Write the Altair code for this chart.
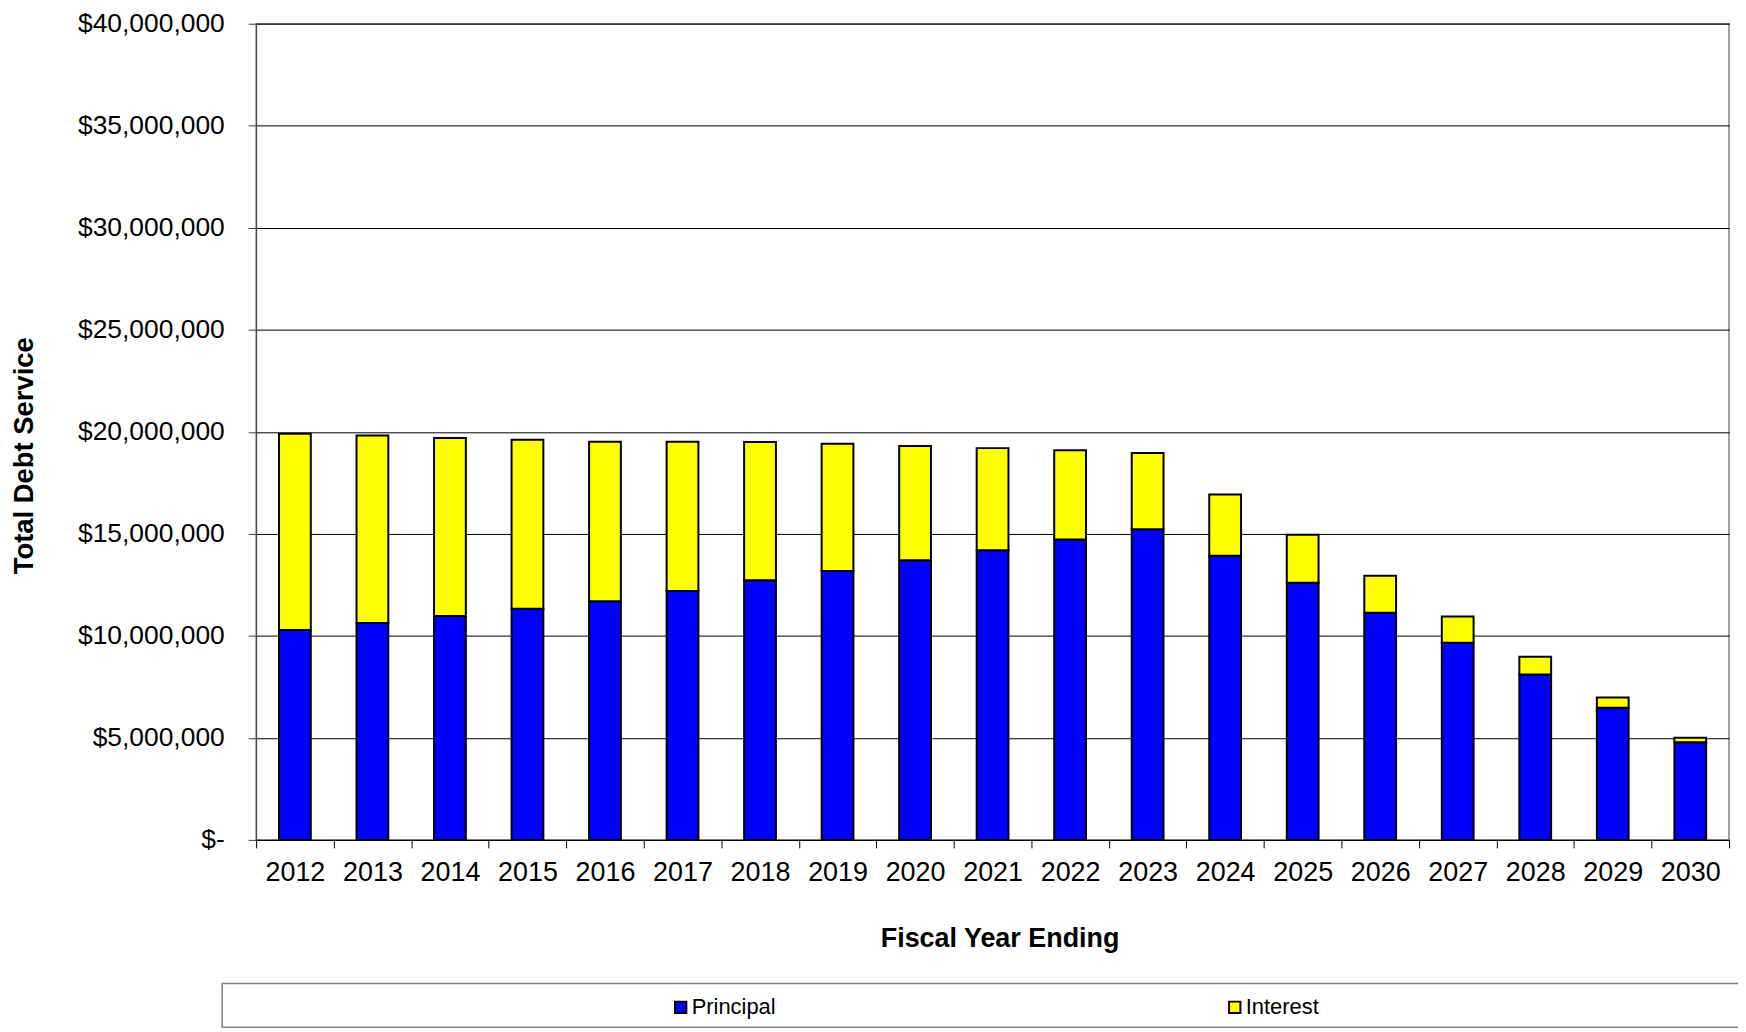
import altair as alt
import pandas as pd

years = [str(y) for y in range(2012, 2031)]
principal_m = [10.29, 10.63, 10.97, 11.33, 11.70, 12.20, 12.73, 13.18, 13.70, 14.19,
               14.72, 15.22, 13.92, 12.60, 11.13, 9.66, 8.10, 6.48, 4.79]
interest_m = [9.61, 9.19, 8.73, 8.28, 7.81, 7.31, 6.77, 6.23, 5.60, 5.01,
              4.38, 3.74, 3.01, 2.35, 1.82, 1.29, 0.88, 0.50, 0.21]
series = ["Principal", "Interest"]
series_colors = ["#0000FF", "#FFFF00"]
y_ticks = [0, 5000000, 10000000, 15000000, 20000000, 25000000, 30000000, 35000000, 40000000]

rows = []
for i, y in enumerate(years):
    rows.append({"year": y, "series": "Principal", "ord": 0, "value": principal_m[i] * 1e6})
    rows.append({"year": y, "series": "Interest", "ord": 1, "value": interest_m[i] * 1e6})
df = pd.DataFrame(rows)

FONT = "Liberation Sans"

bars = alt.Chart(df).mark_bar(
    width=alt.RelativeBandSize(0.41), stroke="black", strokeWidth=2
).encode(
    x=alt.X("year:O", sort=years,
            scale=alt.Scale(paddingInner=0, paddingOuter=0),
            axis=alt.Axis(title="Fiscal Year Ending", labelAngle=0, tickBand="extent",
                          labelFontSize=27, labelColor="black", labelPadding=12,
                          tickSize=8, tickColor="black", domainColor="black",
                          titleFontSize=27, titleFontWeight="bold", titleColor="black",
                          titleX=746, titleY=99, titleBaseline="middle")),
    y=alt.Y("value:Q", stack="zero",
            scale=alt.Scale(domain=[0, 40000000], nice=False),
            axis=alt.Axis(title="Total Debt Service", values=y_ticks,
                          labelExpr="datum.value == 0 ? '$-\u00a0\u00a0' : '$' + format(datum.value, ',')",
                          labelFontSize=26.5, labelColor="black", labelPadding=24,
                          tickSize=8, tickColor="#404040", domainColor="#404040",
                          grid=True, gridColor="black", gridWidth=1,
                          titleFontSize=27.5, titleFontWeight="bold", titleColor="black",
                          titleX=-232, titleY=433, titleBaseline="middle", titleAngle=270)),
    color=alt.Color("series:N", sort=series,
                    scale=alt.Scale(domain=series, range=series_colors),
                    legend=alt.Legend(title=None, orient="none", direction="horizontal",
                                      legendX=415, legendY=976, padding=0,
                                      symbolType="square", symbolSize=130,
                                      symbolStrokeColor="black", symbolStrokeWidth=2,
                                      labelFontSize=22, labelColor="black", labelOffset=0,
                                      columnPadding=449)),
    order=alt.Order("ord:Q"),
)

legend_box = alt.Chart(alt.Data(values=[{}])).mark_rect(
    fill="white", stroke="#808080", strokeWidth=1.5
).encode(
    x=alt.value(-34), x2=alt.value(1500), y=alt.value(963), y2=alt.value(1007)
)

chart = alt.layer(legend_box, bars).properties(
    width=1478, height=819,
    autosize=alt.AutoSizeParams(type="none"),
    padding={"left": 249, "top": 14, "right": 9, "bottom": 189},
).configure(font=FONT).configure_view(stroke="#808080", strokeWidth=1.5)

chart.save("out.html", embed_options={"renderer": "svg", "actions": False})
